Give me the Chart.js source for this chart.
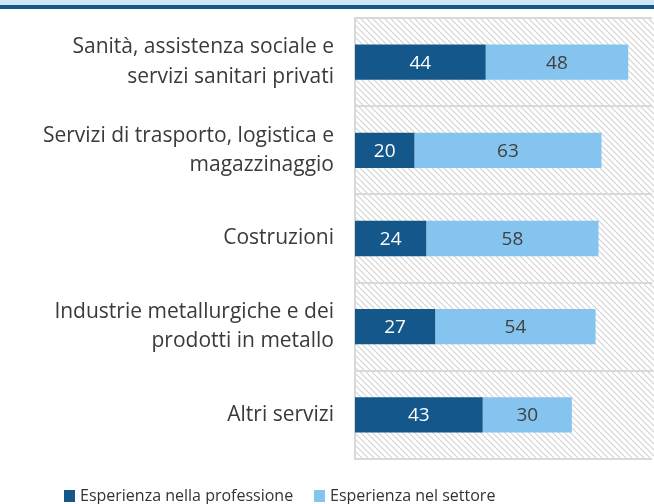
<!DOCTYPE html>
<html>
<head>
<meta charset="utf-8">
<script src="https://cdn.jsdelivr.net/npm/chart.js@4/dist/chart.umd.min.js"></script>
<style>
  html, body { margin: 0; padding: 0; background: #fff; overflow: hidden; }
  #wrap { position: relative; width: 654px; height: 504px; overflow: hidden; }
  #topband { position: absolute; left: 0; top: 0; width: 654px; height: 5px; background: #cfe6f7; border-bottom: 4px solid #14578a; }
  #box { position: absolute; left: 0; top: 0; width: 654px; height: 504px; }
</style>
</head>
<body>
<div id="wrap">
  <div id="box"><canvas id="chart"></canvas></div>
  <div id="topband"></div>
</div>
<script>
// categorie e valori
const categorie = [
    ['Sanità, assistenza sociale e', 'servizi sanitari privati'],
    ['Servizi di trasporto, logistica e', 'magazzinaggio'],
    'Costruzioni',
    ['Industrie metallurgiche e dei', 'prodotti in metallo'],
    'Altri servizi'
];
const professione = [44, 20, 24, 27, 43];
const settore = [48, 63, 58, 54, 30];
const nomiSerie = ['Esperienza nella professione', 'Esperienza nel settore'];

const fontFam = '"Open Sans", "Noto Sans", sans-serif';

// pattern tratteggiato di sfondo
function creaPattern(ctx) {
    const p = document.createElement('canvas');
    p.width = 6;
    p.height = 6;
    const c = p.getContext('2d');
    c.strokeStyle = '#d4d4d4';
    c.lineWidth = 1.2;
    c.beginPath();
    c.moveTo(0, 0);
    c.lineTo(6, 6);
    c.moveTo(-3, 3);
    c.lineTo(3, 9);
    c.moveTo(3, -3);
    c.lineTo(9, 3);
    c.stroke();
    return ctx.createPattern(p, 'repeat');
}

const sfondo = {
    id: 'sfondo',
    beforeDraw(chart) {
        const { ctx, chartArea } = chart;
        ctx.save();
        ctx.fillStyle = creaPattern(ctx);
        ctx.fillRect(chartArea.left, chartArea.top, chart.width - chartArea.left, chartArea.bottom - chartArea.top);
        ctx.restore();
    }
};

// etichette dei valori al centro delle barre
const etichette = {
    id: 'etichette',
    afterDatasetsDraw(chart) {
        const ctx = chart.ctx;
        ctx.save();
        ctx.font = '19px ' + fontFam;
        ctx.textAlign = 'center';
        ctx.textBaseline = 'middle';
        chart.data.datasets.forEach((ds, i) => {
            chart.getDatasetMeta(i).data.forEach((bar, j) => {
                const x = (bar.x + bar.base) / 2;
                ctx.fillStyle = i === 0 ? '#ffffff' : '#404040';
                ctx.fillText(ds.data[j], x, bar.y + 1);
            });
        });
        ctx.restore();
    }
};

// legenda in basso (tagliata dal bordo come nell'originale)
const legenda = {
    id: 'legenda',
    afterDraw(chart) {
        const ctx = chart.ctx;
        const posX = [64, 314];
        ctx.save();
        ctx.font = '16px ' + fontFam;
        ctx.textBaseline = 'alphabetic';
        ctx.textAlign = 'left';
        chart.data.datasets.forEach((ds, i) => {
            ctx.fillStyle = ds.backgroundColor;
            ctx.fillRect(posX[i], 490, 11, 12);
            ctx.fillStyle = '#333333';
            ctx.fillText(ds.label, posX[i] + 16, 501);
        });
        ctx.restore();
    }
};

new Chart(document.getElementById('chart'), {
    type: 'bar',
    data: {
        labels: categorie,
        datasets: [{
            label: nomiSerie[0],
            data: professione,
            backgroundColor: '#14578a'
        }, {
            label: nomiSerie[1],
            data: settore,
            backgroundColor: '#85c4ee'
        }]
    },
    options: {
        indexAxis: 'y',
        responsive: true,
        maintainAspectRatio: false,
        animation: false,
        layout: {
            padding: { top: 18, right: 2, left: 0, bottom: 45 }
        },
        scales: {
            x: {
                stacked: true,
                display: false,
                min: 0,
                max: 100
            },
            y: {
                stacked: true,
                afterFit(scale) {
                    scale.width = 355;
                    scale.paddingTop = 0;
                    scale.paddingBottom = 0;
                },
                grid: {
                    offset: true,
                    color: '#d9d9d9',
                    lineWidth: 2,
                    drawTicks: false
                },
                border: { color: '#d9d9d9', width: 2 },
                ticks: {
                    color: '#3a3a3a',
                    padding: 21,
                    font: { family: fontFam, size: 21, lineHeight: 1.4 }
                }
            }
        },
        datasets: {
            bar: { categoryPercentage: 1, barPercentage: 0.4 }
        },
        plugins: {
            legend: { display: false },
            tooltip: { enabled: false }
        }
    },
    plugins: [sfondo, etichette, legenda]
});
</script>
</body>
</html>
